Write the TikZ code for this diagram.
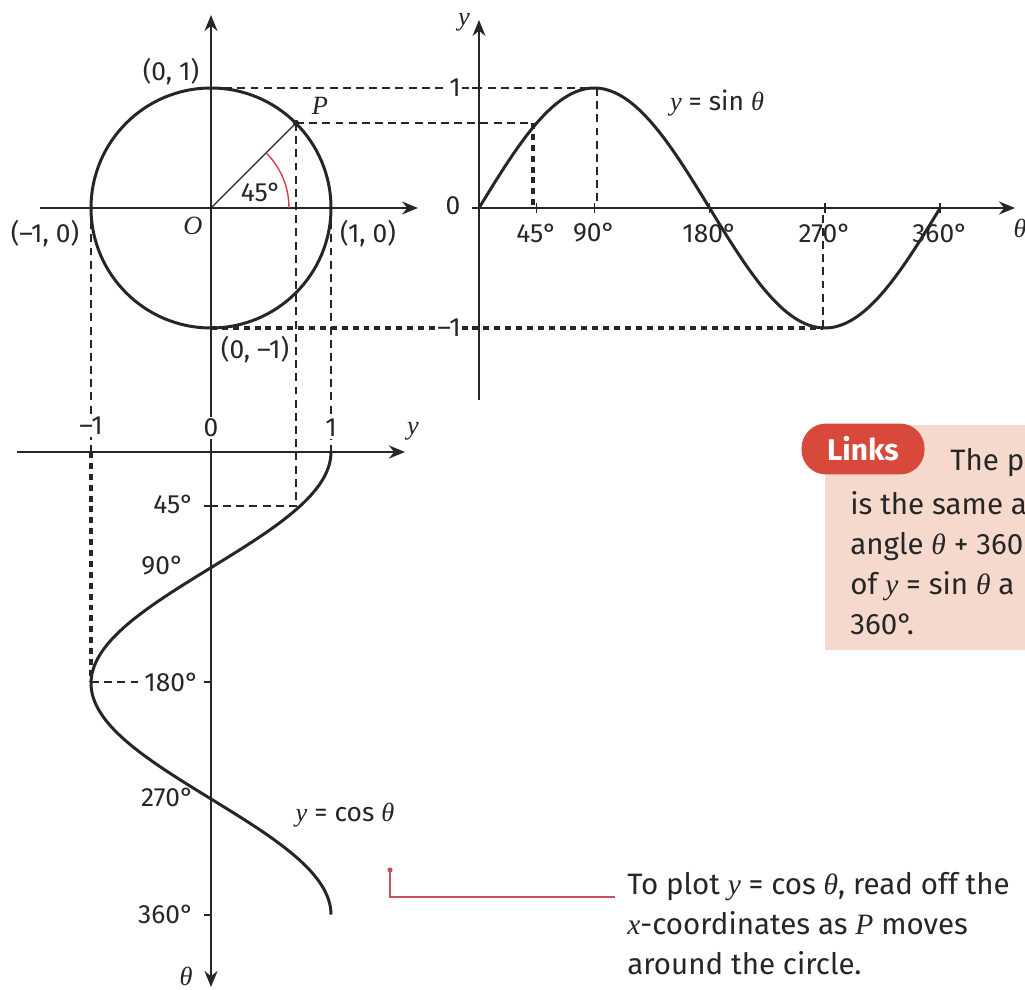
\documentclass[tikz,border=0pt]{standalone}
\usepackage{fontspec}
\setmainfont{Fira Sans}
\newfontfamily\varfont{Liberation Serif}
\usetikzlibrary{arrows.meta,positioning}
\definecolor{ink}{HTML}{262626}
\definecolor{linkred}{HTML}{D9493B}
\definecolor{linkpink}{HTML}{F6D9CD}
\definecolor{callred}{HTML}{C9505C}
\definecolor{arcred}{HTML}{D0404E}
\newcommand{\lblfont}{\fontsize{15}{17}\selectfont}
\newcommand{\notefont}{\fontsize{16.8}{22.7}\selectfont}
\newcommand{\vi}[1]{{\varfont\itshape #1}}

\begin{document}
\begin{tikzpicture}[x=0.02cm, y=-0.02cm,
  every node/.style={font=\lblfont, text=ink},
  axis/.style={draw=ink, line width=1.5pt, -{Stealth[length=3.2mm, width=2.6mm]}},
  slim axis/.style={axis, line width=0.9pt},
  guide/.style={draw=ink, line width=0.75pt, dash pattern=on 4.5pt off 3pt},
  heavy guide/.style={draw=ink, line width=1.9pt, dash pattern=on 3.4pt off 2.8pt},
  graph/.style={draw=ink, line width=1.7pt},
  tick/.style={draw=ink, line width=0.8pt},
  blank/.style={fill=white, inner sep=1pt},
  note/.style={font=\notefont, text=ink, inner sep=0pt, align=left, anchor=north west}]
  \useasboundingbox (0,0) rectangle (1025,990);
  \clip (0,0) rectangle (1025,990);

  % Points
  \coordinate (O)   at (211,208);
  \coordinate (P)   at (296,123);
  \coordinate (top) at (211,88);
  \coordinate (bot) at (211,328);
  \coordinate (lft) at (91,208);
  \coordinate (rgt) at (331,208);
  \coordinate (ytop)  at (211,15);
  \coordinate (thbot) at (211,987);
  \coordinate (s45)  at (533,123);
  \coordinate (s90)  at (597,88);
  \coordinate (s270) at (823,328);
  \coordinate (c45)  at (296,506);
  \coordinate (c180) at (91,682);

  % Guide lines
  \draw[guide] (top) -- (s90);
  \draw[guide] (P) -- (s45);
  \draw[heavy guide] (s45) -- (533,208);
  \draw[guide] (s90) -- (597,208);
  \draw[guide] (s270) -- (823,208);
  \draw[heavy guide] (bot) -- (s270);
  \draw[guide] (lft) -- (91,452);
  \draw[heavy guide] (91,452) -- (c180);
  \draw[guide] (c180) -- (142,682);
  \draw[guide] (rgt) -- (331,452);
  \draw[guide] (P) -- (c45) -- (211,506);

  % Unit circle
  \draw[slim axis] (40,208) -- (418,208);
  \draw[axis, {Stealth[length=3.2mm, width=2.6mm]}-{Stealth[length=3.2mm, width=2.6mm]}] (thbot) -- (ytop);
  \draw[graph] (O) circle[radius=120];
  \draw[ink, line width=0.8pt] (O) -- (P);
  \draw[arcred, line width=0.8pt] (O) ++(78,0) arc[start angle=0, end angle=-45, radius=78];
  \fill[ink] (P) circle[radius=3.2];
  \node (a45)  at (261,192) {45°};
  \node (n01)  at (171,72)  {(0, 1)};
  \node (n10m) at (45,234)  {(–1, 0)};
  \node (nO)   at (193,226) {\vi{O}};
  \node (n10)  at (368,234) {(1, 0)};
  \node (n01m) at (255,350) {(0, –1)};
  \node (nP)   at (320,106) {\vi{P}};

  % Sine graph
  \draw[slim axis] (479,400) -- (479,20);
  \draw[axis] (472,208) -- (1015,208);
  \node (sy)  at (464,22)   {\vi{y}};
  \node (sth) at (1020,228) {\vi{θ}};
  \draw[tick] (472,88) -- (479,88);
  \draw[tick] (472,328) -- (479,328);
  \node[blank] (s1)  at (455,88)  {1};
  \node        (s0)  at (453,206) {0};
  \node[blank] (s1m) at (449,328) {–1};
  \foreach \a/\t in {45/45°, 90/90°, 180/180°, 270/270°, 360/360°} {
    \draw[tick] ({479+1.281*\a},203) -- ({479+1.281*\a},213);
    \node at ({479+1.281*\a},233) {\t};
  }
  \draw[graph] plot[domain=0:360, samples=120, smooth] ({479+1.281*\x}, {208-120*sin(\x)});
  \node (sinlbl) at (717,103) {\vi{y} = sin \vi{θ}};

  % Cosine graph
  \draw[axis] (17,452) -- (405,452);
  \node (cy) at (413,431) {\vi{y}};
  \foreach \x in {91,211,331} \draw[tick] (\x,445) -- (\x,452);
  \node[blank] (cm1) at (91,426) {–1};
  \node[blank] (c0)  at (211,428) {0};
  \node[blank] (c1)  at (331,428) {1};
  \foreach \y in {506,682,915} \draw[tick] (204,\y) -- (211,\y);
  \node[anchor=east] (t45)  at (200,504) {45°};
  \node[anchor=east] (t90)  at (190,566) {90°};
  \node[anchor=east, blank] (t180) at (201,682) {180°};
  \node[anchor=east] (t270) at (200,797) {270°};
  \node[anchor=east] (t360) at (200,914) {360°};
  \node (cth) at (186,976) {\vi{θ}};
  \draw[graph] plot[domain=0:360, samples=120, smooth] ({211+120*cos(\x)}, {452+1.285*\x});
  \node (coslbl) at (345,815) {\vi{y} = cos \vi{θ}};

  % Links box
  \fill[linkpink] (825,425) rectangle (1030,650);
  \node[fill=linkred, text=white, font=\fontsize{17}{19}\bfseries, rounded corners=14pt,
        minimum width=70pt, minimum height=29pt] (links) at (863,449) {Links};
  \node[note, anchor=base west] (lk1) at (950,470) {The p};
  \node[note] (lk2) at (850,491) {is the same a\\angle \vi{θ} + 360\\of \vi{y} = sin \vi{θ} a\\360°.};

  % Callout
  \coordinate (cdot) at (390,870);
  \coordinate (ccorner) at (390,897);
  \coordinate (cend) at (615,897);
  \draw[callred, line width=0.8pt] (cdot) -- (ccorner) -- (cend);
  \fill[callred] (cdot) circle[radius=2.6];
  \node[note] (callout) at (627,872) {To plot \vi{y} = cos \vi{θ}, read off the\\\vi{x}-coordinates as \vi{P} moves\\around the circle.};
\end{tikzpicture}
\end{document}
